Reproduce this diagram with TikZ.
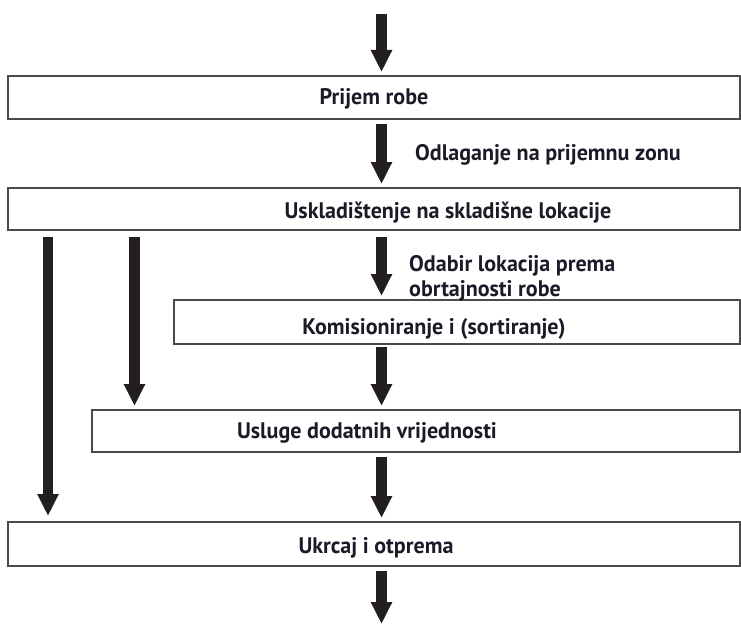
\documentclass[tikz,border=0pt]{standalone}
\usepackage{fontspec}
\setmainfont{PT Sans}[FakeStretch=0.98]
\usetikzlibrary{arrows.meta}
\definecolor{arrowc}{HTML}{231F20}
\definecolor{linec}{HTML}{4A4A4A}
\definecolor{textc}{HTML}{1B1B28}
\tikzset{
  box/.style={draw=linec, line width=1.6pt, fill=white, inner sep=0pt, outer sep=0pt, anchor=north west},
  txt/.style={text=textc, inner sep=0pt, font=\fontsize{22.5}{26}\selectfont\bfseries, anchor=base},
  lbl/.style={txt, anchor=base west},
  arr/.style={draw=arrowc, line width=10.5pt, -{Triangle[length=22pt,width=20pt]}, shorten <=5pt, shorten >=4pt},
}
\begin{document}
\begin{tikzpicture}[x=1pt,y=-1pt]
\useasboundingbox (0,0) rectangle (741,626);
% boxes
\node[box, minimum width=732pt, minimum height=43pt] (b1) at (8,76) {};
\node[box, minimum width=732pt, minimum height=42pt] (b2) at (8,188) {};
\node[box, minimum width=566pt, minimum height=44pt] (b3) at (174,300) {};
\node[box, minimum width=648pt, minimum height=42pt] (b4) at (92,410) {};
\node[box, minimum width=732pt, minimum height=44pt] (b5) at (8,522) {};
% texts
\node[txt] (t1) at (374,104) {Prijem robe};
\node[txt] (t2) at (448,218) {Uskladištenje na skladišne lokacije};
\node[txt] (t3) at (434,334) {Komisioniranje i (sortiranje)};
\node[txt] (t4) at (367,438) {Usluge dodatnih vrijednosti};
\node[txt] (t5) at (376,553) {Ukrcaj i otprema};
\node[lbl] (l2) at (415,160) {Odlaganje na prijemnu zonu};
\node[lbl] (l3a) at (409,271) {Odabir lokacija prema};
\node[lbl] (l3b) at (409,296) {obrtajnosti robe};
% guide coordinates
\coordinate (ax) at (381.5,0);
\coordinate (lx) at (48,0);
\coordinate (mx) at (134.5,0);
\coordinate (top) at (381.5,14);
\coordinate (bot) at (381.5,624);
% arrows
\draw[arr, shorten <=0pt] (top) -- (b1.north -| ax);
\draw[arr] (b1.south -| ax) -- (b2.north -| ax);
\draw[arr, shorten <=7pt] (b2.south -| ax) -- (b3.north -| ax);
\draw[arr, shorten <=7pt, shorten >=6pt] (b2.south -| lx) -- (b5.north -| lx);
\draw[arr, shorten <=7pt] (b2.south -| mx) -- (b4.north -| mx);
\draw[arr, shorten <=3pt] (b3.south -| ax) -- (b4.north -| ax);
\draw[arr] (b4.south -| ax) -- (b5.north -| ax);
\draw[arr, shorten >=0pt] (b5.south -| ax) -- (bot);
\end{tikzpicture}
\end{document}
